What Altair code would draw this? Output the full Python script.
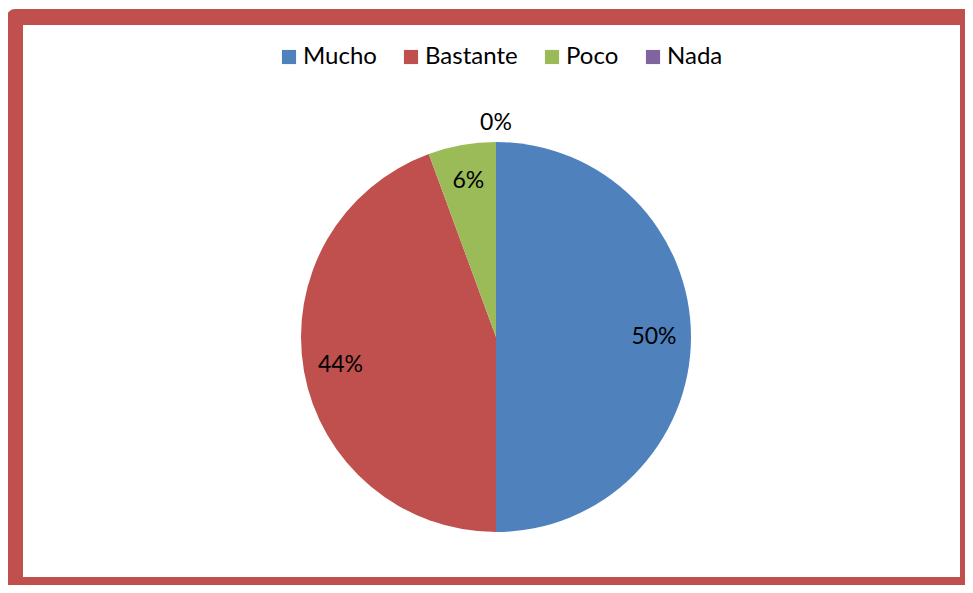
import altair as alt
import pandas as pd

categories = ["Mucho", "Bastante", "Poco", "Nada"]
values = [50.0, 44.4, 5.6, 0.0]
labels = ["50%", "44%", "6%", "0%"]
colors = ["#4F81BD", "#C0504D", "#9BBB59", "#8064A2"]

df = pd.DataFrame({
    "cat": categories,
    "value": values,
    "label": labels,
    "idx": list(range(len(categories))),
})

# plot area (view) size; whole svg = 7 + 950 by 9 + 568 -> fits the page
W, H = 950, 568
CX, CY = 481, 320
FONT = "Lato"

frame = alt.Chart(pd.DataFrame({"k": [0]})).mark_rect(
    fill=None, stroke="#C0504D", strokeWidth=16, strokeJoin="round"
).encode(
    x=alt.value(0), x2=alt.value(W + 3), y=alt.value(0), y2=alt.value(H)
)

base = alt.Chart(df).encode(
    theta=alt.Theta("value:Q", stack=True),
    order=alt.Order("idx:Q"),
)

pie = base.mark_arc(outerRadius=195, strokeWidth=0).encode(
    x=alt.value(CX),
    y=alt.value(CY),
    color=alt.Color(
        "cat:N",
        scale=alt.Scale(domain=categories, range=colors),
        sort=categories,
        legend=alt.Legend(
            title=None,
            orient="none",
            direction="horizontal",
            legendX=262,
            legendY=28,
            symbolType="square",
            symbolSize=200,
            symbolStrokeWidth=0,
            symbolOpacity=1,
            labelFont=FONT,
            labelFontSize=24,
            labelColor="#000000",
            labelOffset=2,
            columnPadding=22,
        ),
    ),
)

inner = base.mark_text(radius=158, font=FONT, fontSize=23,
                       color="#000000", align="center", baseline="middle").encode(
    x=alt.value(CX),
    y=alt.value(CY),
    text=alt.condition("datum.value > 0", "label:N", alt.value("")),
)

outer = base.mark_text(radius=214, font=FONT, fontSize=23,
                       color="#000000", align="center", baseline="middle").encode(
    x=alt.value(CX),
    y=alt.value(CY),
    text=alt.condition("datum.value == 0", "label:N", alt.value("")),
)

chart = (
    alt.layer(frame, pie, inner, outer)
    .properties(
        width=W,
        height=H,
        autosize=alt.AutoSizeParams(type="none"),
        padding={"left": 7, "top": 9, "right": 0, "bottom": 0},
        background="#FFFFFF",
    )
    .configure_view(stroke=None)
)

chart.save("out.html", embed_options={"renderer": "svg", "actions": False})
